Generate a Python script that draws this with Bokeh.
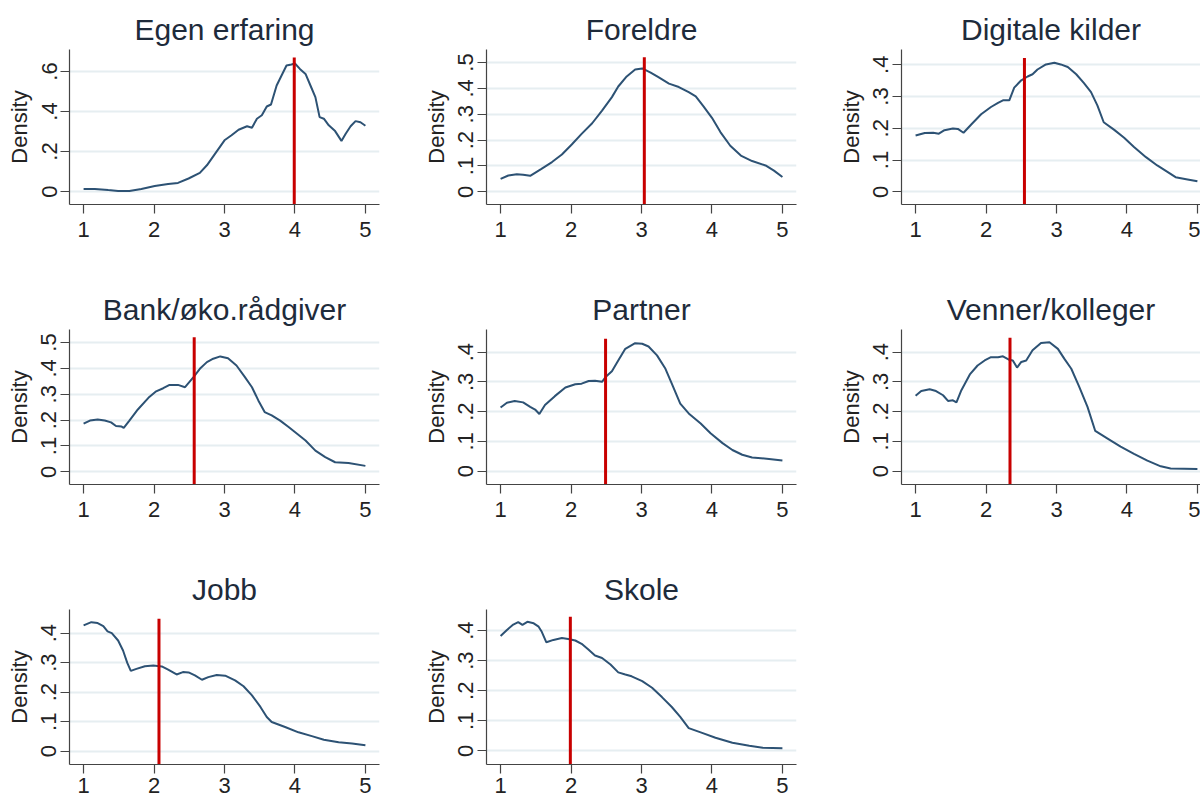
from bokeh.plotting import figure
from bokeh.layouts import column, row
from bokeh.models import FixedTicker, CustomJSTickFormatter, Range1d
from bokeh.embed import file_html
from bokeh.resources import INLINE

# ---------------- data ----------------
titles = ["Egen erfaring", "Foreldre", "Digitale kilder",
          "Bank/øko.rådgiver", "Partner", "Venner/kolleger",
          "Jobb", "Skole"]

# mean values (red lines) and red line top
means = [3.99, 3.04, 2.545, 2.57, 2.49, 2.34, 2.07, 1.99]
mean_line_top = [0.67, 0.52, 0.421, 0.52, 0.445, 0.448, 0.449, 0.446]

# y-axis extents / ticks
y_max = [0.71, 0.55, 0.448, 0.55, 0.476, 0.476, 0.48, 0.47]
y_min = [-0.065, -0.049, -0.04, -0.049, -0.045, -0.045, -0.045, -0.045]
y_ticks = [[0, 0.2, 0.4, 0.6],
           [0, 0.1, 0.2, 0.3, 0.4, 0.5],
           [0, 0.1, 0.2, 0.3, 0.4],
           [0, 0.1, 0.2, 0.3, 0.4, 0.5],
           [0, 0.1, 0.2, 0.3, 0.4],
           [0, 0.1, 0.2, 0.3, 0.4],
           [0, 0.1, 0.2, 0.3, 0.4],
           [0, 0.1, 0.2, 0.3, 0.4]]
x_ticks = [1, 2, 3, 4, 5]

egen_x = [1.0, 1.16, 1.35, 1.49, 1.65, 1.82, 2.01, 2.2, 2.34, 2.49, 2.65, 2.75, 2.86, 3.0, 3.1, 3.2,
          3.32, 3.39, 3.46, 3.53, 3.6, 3.66, 3.74, 3.81, 3.88, 3.95, 4.0, 4.07, 4.15, 4.22, 4.29,
          4.35, 4.41, 4.48, 4.57, 4.66, 4.72, 4.79, 4.86, 4.93, 5.0]
egen_y = [0.013, 0.013, 0.007, 0.003, 0.002, 0.013, 0.027, 0.038, 0.043, 0.065, 0.093, 0.131, 0.186,
          0.256, 0.281, 0.309, 0.326, 0.319, 0.364, 0.381, 0.425, 0.435, 0.53, 0.58, 0.63, 0.635,
          0.64, 0.613, 0.588, 0.53, 0.472, 0.372, 0.364, 0.331, 0.302, 0.253, 0.289, 0.326, 0.352,
          0.346, 0.329]

foreldre_x = [1.0, 1.11, 1.23, 1.32, 1.42, 1.58, 1.73, 1.87, 2.01, 2.15, 2.3, 2.44, 2.58, 2.67, 2.79,
              2.91, 3.01, 3.13, 3.24, 3.39, 3.53, 3.67, 3.77, 3.88, 4.0, 4.12, 4.26, 4.41, 4.57,
              4.76, 4.88, 5.0]
foreldre_y = [0.05, 0.063, 0.068, 0.066, 0.062, 0.089, 0.115, 0.144, 0.183, 0.224, 0.265, 0.314,
              0.366, 0.407, 0.446, 0.473, 0.477, 0.461, 0.443, 0.418, 0.405, 0.385, 0.369, 0.33,
              0.286, 0.231, 0.178, 0.14, 0.119, 0.102, 0.082, 0.057]

digitale_x = [1.0, 1.13, 1.25, 1.33, 1.41, 1.53, 1.6, 1.68, 1.79, 1.93, 2.07, 2.17, 2.24, 2.33, 2.4,
              2.5, 2.59, 2.66, 2.73, 2.85, 2.97, 3.06, 3.16, 3.28, 3.39, 3.49, 3.58, 3.67, 3.82,
              3.96, 4.1, 4.27, 4.43, 4.58, 4.69, 4.86, 5.0]
digitale_y = [0.177, 0.185, 0.186, 0.183, 0.194, 0.199, 0.198, 0.186, 0.212, 0.244, 0.267, 0.28,
              0.288, 0.288, 0.328, 0.351, 0.363, 0.37, 0.385, 0.401, 0.406, 0.401, 0.393, 0.37,
              0.342, 0.314, 0.272, 0.219, 0.195, 0.17, 0.141, 0.109, 0.083, 0.062, 0.046, 0.039,
              0.033]

bank_x = [1.0, 1.09, 1.2, 1.3, 1.39, 1.46, 1.54, 1.57, 1.65, 1.77, 1.92, 2.03, 2.13, 2.22, 2.34,
          2.44, 2.56, 2.65, 2.75, 2.84, 2.94, 3.05, 3.17, 3.29, 3.39, 3.48, 3.57, 3.67, 3.79, 3.91,
          4.03, 4.15, 4.29, 4.43, 4.57, 4.76, 5.0]
bank_y = [0.186, 0.198, 0.202, 0.198, 0.191, 0.177, 0.175, 0.17, 0.198, 0.241, 0.286, 0.311,
          0.323, 0.336, 0.336, 0.327, 0.366, 0.398, 0.424, 0.437, 0.446, 0.439, 0.411, 0.366,
          0.327, 0.276, 0.231, 0.218, 0.198, 0.173, 0.147, 0.121, 0.082, 0.057, 0.037, 0.034,
          0.023]

partner_x = [1.0, 1.09, 1.2, 1.32, 1.42, 1.49, 1.55, 1.63, 1.77, 1.92, 2.06, 2.15, 2.25, 2.34, 2.44,
             2.49, 2.58, 2.67, 2.77, 2.91, 3.01, 3.1, 3.22, 3.34, 3.43, 3.55, 3.67, 3.84, 3.98,
             4.15, 4.29, 4.43, 4.57, 4.81, 5.0]
partner_y = [0.214, 0.23, 0.236, 0.231, 0.216, 0.207, 0.192, 0.222, 0.252, 0.281, 0.292, 0.294,
             0.303, 0.304, 0.3, 0.316, 0.336, 0.372, 0.411, 0.43, 0.428, 0.419, 0.389, 0.344,
             0.294, 0.227, 0.194, 0.16, 0.127, 0.094, 0.071, 0.055, 0.046, 0.041, 0.036]

venner_x = [1.0, 1.08, 1.2, 1.29, 1.39, 1.46, 1.53, 1.58, 1.65, 1.77, 1.88, 1.98, 2.07, 2.17, 2.24,
            2.33, 2.38, 2.44, 2.5, 2.57, 2.66, 2.78, 2.9, 3.02, 3.11, 3.21, 3.32, 3.44, 3.55, 3.72,
            3.91, 4.1, 4.29, 4.48, 4.62, 4.81, 5.0]
venner_y = [0.253, 0.269, 0.275, 0.269, 0.255, 0.236, 0.238, 0.231, 0.272, 0.325, 0.355, 0.372,
            0.383, 0.383, 0.386, 0.374, 0.372, 0.348, 0.367, 0.372, 0.406, 0.431, 0.433, 0.411,
            0.378, 0.344, 0.285, 0.216, 0.135, 0.11, 0.082, 0.058, 0.035, 0.016, 0.009, 0.008,
            0.007]

jobb_x = [1.0, 1.11, 1.2, 1.28, 1.34, 1.4, 1.49, 1.56, 1.62, 1.67, 1.75, 1.87, 1.99, 2.11, 2.2,
          2.32, 2.41, 2.49, 2.58, 2.68, 2.77, 2.89, 3.01, 3.15, 3.27, 3.39, 3.51, 3.6, 3.67, 3.86,
          4.05, 4.24, 4.41, 4.62, 4.81, 5.0]
jobb_y = [0.426, 0.437, 0.434, 0.424, 0.406, 0.4, 0.375, 0.341, 0.299, 0.272, 0.279, 0.288, 0.29,
          0.287, 0.276, 0.26, 0.268, 0.267, 0.257, 0.242, 0.251, 0.258, 0.256, 0.24, 0.22, 0.189,
          0.15, 0.116, 0.099, 0.082, 0.064, 0.051, 0.039, 0.03, 0.026, 0.02]

skole_x = [1.0, 1.09, 1.18, 1.25, 1.31, 1.38, 1.47, 1.54, 1.58, 1.65, 1.75, 1.87, 1.96, 2.06, 2.15,
           2.25, 2.34, 2.44, 2.56, 2.67, 2.77, 2.86, 3.01, 3.15, 3.29, 3.43, 3.55, 3.67, 3.86,
           4.05, 4.29, 4.53, 4.72, 5.0]
skole_y = [0.382, 0.402, 0.42, 0.428, 0.419, 0.429, 0.424, 0.413, 0.398, 0.361, 0.369, 0.375,
           0.372, 0.367, 0.356, 0.336, 0.317, 0.309, 0.287, 0.261, 0.254, 0.248, 0.232, 0.21,
           0.179, 0.146, 0.113, 0.076, 0.06, 0.044, 0.027, 0.017, 0.011, 0.009]

curves_x = [egen_x, foreldre_x, digitale_x, bank_x, partner_x, venner_x, jobb_x, skole_x]
curves_y = [egen_y, foreldre_y, digitale_y, bank_y, partner_y, venner_y, jobb_y, skole_y]

# ---------------- styling ----------------
FONT = "Liberation Sans"
LINE_COLOR = "#2d5274"
RED = "#c80000"
GRID = "#e6eef1"
AXIS = "#444444"

col_widths = [418, 417, 365]
col_left = [69, 68, 66]
row_heights = [280, 280, 238]
FRAME_W = 310
FRAME_H = 155
TOP = 49

fmt = CustomJSTickFormatter(code="""
    if (tick == 0) { return "0"; }
    return tick.toFixed(1).replace(/^0/, "");
""")


def make_panel(i):
    r, c = divmod(i, 3)
    w = col_widths[c]
    h = row_heights[r]
    left = col_left[c]
    if c == 2:
        fw = w - left
        right = 0
    else:
        fw = FRAME_W
        right = w - left - FRAME_W
    x_end = 0.8 + fw * (4.4 / FRAME_W)
    p = figure(width=w, height=h, output_backend="svg", toolbar_location=None,
               x_range=Range1d(0.8, x_end), y_range=Range1d(y_min[i], y_max[i]),
               min_border_left=left, min_border_right=right,
               min_border_top=TOP, min_border_bottom=max(h - TOP - FRAME_H, 20))
    p.title.text = titles[i]
    p.title.align = "center"
    p.title.text_font = FONT
    p.title.text_font_size = "30px"
    p.title.text_font_style = "normal"
    p.title.text_color = "#1e2b3b"
    p.title.standoff = 7

    p.outline_line_color = None
    p.background_fill_color = "white"
    p.border_fill_color = "white"

    p.xgrid.grid_line_color = None
    p.ygrid.grid_line_color = GRID
    p.ygrid.grid_line_width = 2

    p.xaxis.ticker = FixedTicker(ticks=x_ticks)
    p.yaxis.ticker = FixedTicker(ticks=y_ticks[i])
    p.yaxis.formatter = fmt
    p.yaxis.axis_label = "Density"
    p.yaxis.major_label_orientation = "vertical"

    for ax in (p.xaxis, p.yaxis):
        ax.axis_line_color = AXIS
        ax.axis_line_width = 1.2
        ax.major_tick_line_color = AXIS
        ax.major_tick_line_width = 1.2
        ax.major_tick_out = 9
        ax.major_tick_in = 0
        ax.minor_tick_line_color = None
        ax.major_label_text_font = FONT
        ax.major_label_text_font_size = "22px"
        ax.major_label_text_color = "#222222"
        ax.axis_label_text_font = FONT
        ax.axis_label_text_font_size = "22px"
        ax.axis_label_text_font_style = "normal"
        ax.axis_label_text_color = "#222222"
    p.xaxis.major_label_standoff = 4 if r == 2 else 8
    p.yaxis.major_label_standoff = 4
    p.yaxis.axis_label_standoff = 7

    p.line(curves_x[i], curves_y[i], line_color=LINE_COLOR, line_width=2)
    p.segment(x0=[means[i]], y0=[y_min[i]], x1=[means[i]], y1=[mean_line_top[i]],
              line_color=RED, line_width=3)
    return p


panels = [make_panel(i) for i in range(8)]
layout = column(
    row(panels[0], panels[1], panels[2]),
    row(panels[3], panels[4], panels[5]),
    row(panels[6], panels[7]),
)

open("out.html", "w").write(file_html(layout, INLINE))
